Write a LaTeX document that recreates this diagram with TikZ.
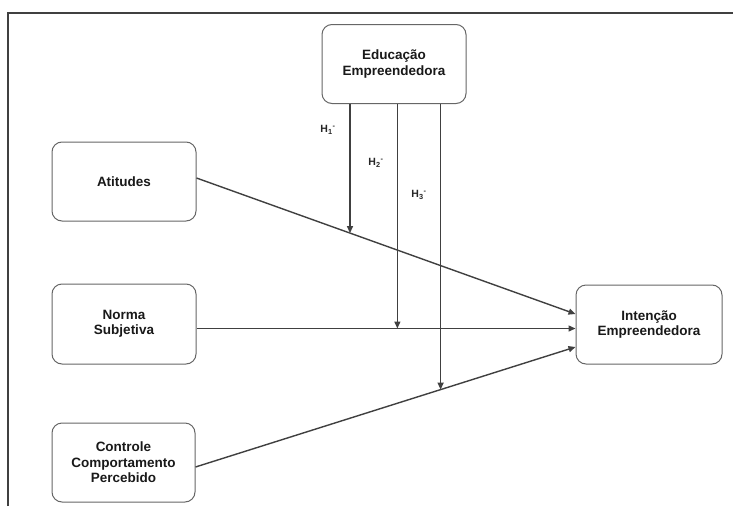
\documentclass[tikz,border=0pt]{standalone}
\usepackage{fontspec}
\setmainfont{Liberation Sans}
\usetikzlibrary{arrows.meta,calc}

\begin{document}
\begin{tikzpicture}[x=1pt,y=1pt,yscale=-1,xscale=1,
  box/.style={draw=black!60,line width=1pt,rounded corners=10pt,fill=white,
    inner sep=0pt,minimum width=144pt,minimum height=79pt,align=center,
    font=\fontsize{13.5}{15.5}\selectfont\bfseries,text=black!90},
  link/.style={draw=black!75,line width=1.4pt,-{Triangle[length=7pt,width=6pt]}},
  hyp/.style={font=\fontsize{10.5}{12}\selectfont\bfseries,text=black!85}]
\useasboundingbox (0,0) rectangle (733,506);

% frame
\draw [black!75,line width=1.8pt] (8,506) -- (8,13) -- (733,13);

% boxes
\node [box] (edu) at (394,64) {Educação\\Empreendedora};
\node [box] (att) at (124,181.5) {Atitudes};
\node [box,minimum height=80pt] (norm) at (124,324) {Norma\\Subjetiva};
\node [box,minimum width=143pt] (ctrl) at (123.5,462.5) {Controle\\Comportamento\\Percebido};
\node [box,minimum width=146pt] (int) at (649,324.5) {Intenção\\Empreendedora};

% line ends
\coordinate (a1) at ($(att.east)+(0,-3.5)$);
\coordinate (a2) at ($(int.west)+(0,-10.5)$);
\coordinate (n1) at ($(norm.east)+(0,4.5)$);
\coordinate (n2) at (n1 -| int.west);
\coordinate (c1) at ($(ctrl.east)+(0,4.5)$);
\coordinate (c2) at ($(int.west)+(0,22.5)$);

\draw [link] (a1) -- (a2);
\draw [link] (n1) -- (n2);
\draw [link] (c1) -- (c2);

% moderation
\coordinate (h1) at ($(a1)!0.405!(a2)$);
\coordinate (h2) at ($(n1)!0.530!(n2)$);
\coordinate (h3) at ($(c1)!0.645!(c2)$);

\draw [link] (h1 |- edu.south) -- (h1);
\draw [link] (h2 |- edu.south) -- (h2);
\draw [link] (h3 |- edu.south) -- (h3);

\node [hyp] (l1) at (328,130) {H\textsubscript{1}\textsuperscript{-}};
\node [hyp] (l2) at (376,163) {H\textsubscript{2}\textsuperscript{-}};
\node [hyp] (l3) at (419,195) {H\textsubscript{3}\textsuperscript{-}};

\end{tikzpicture}
\end{document}
